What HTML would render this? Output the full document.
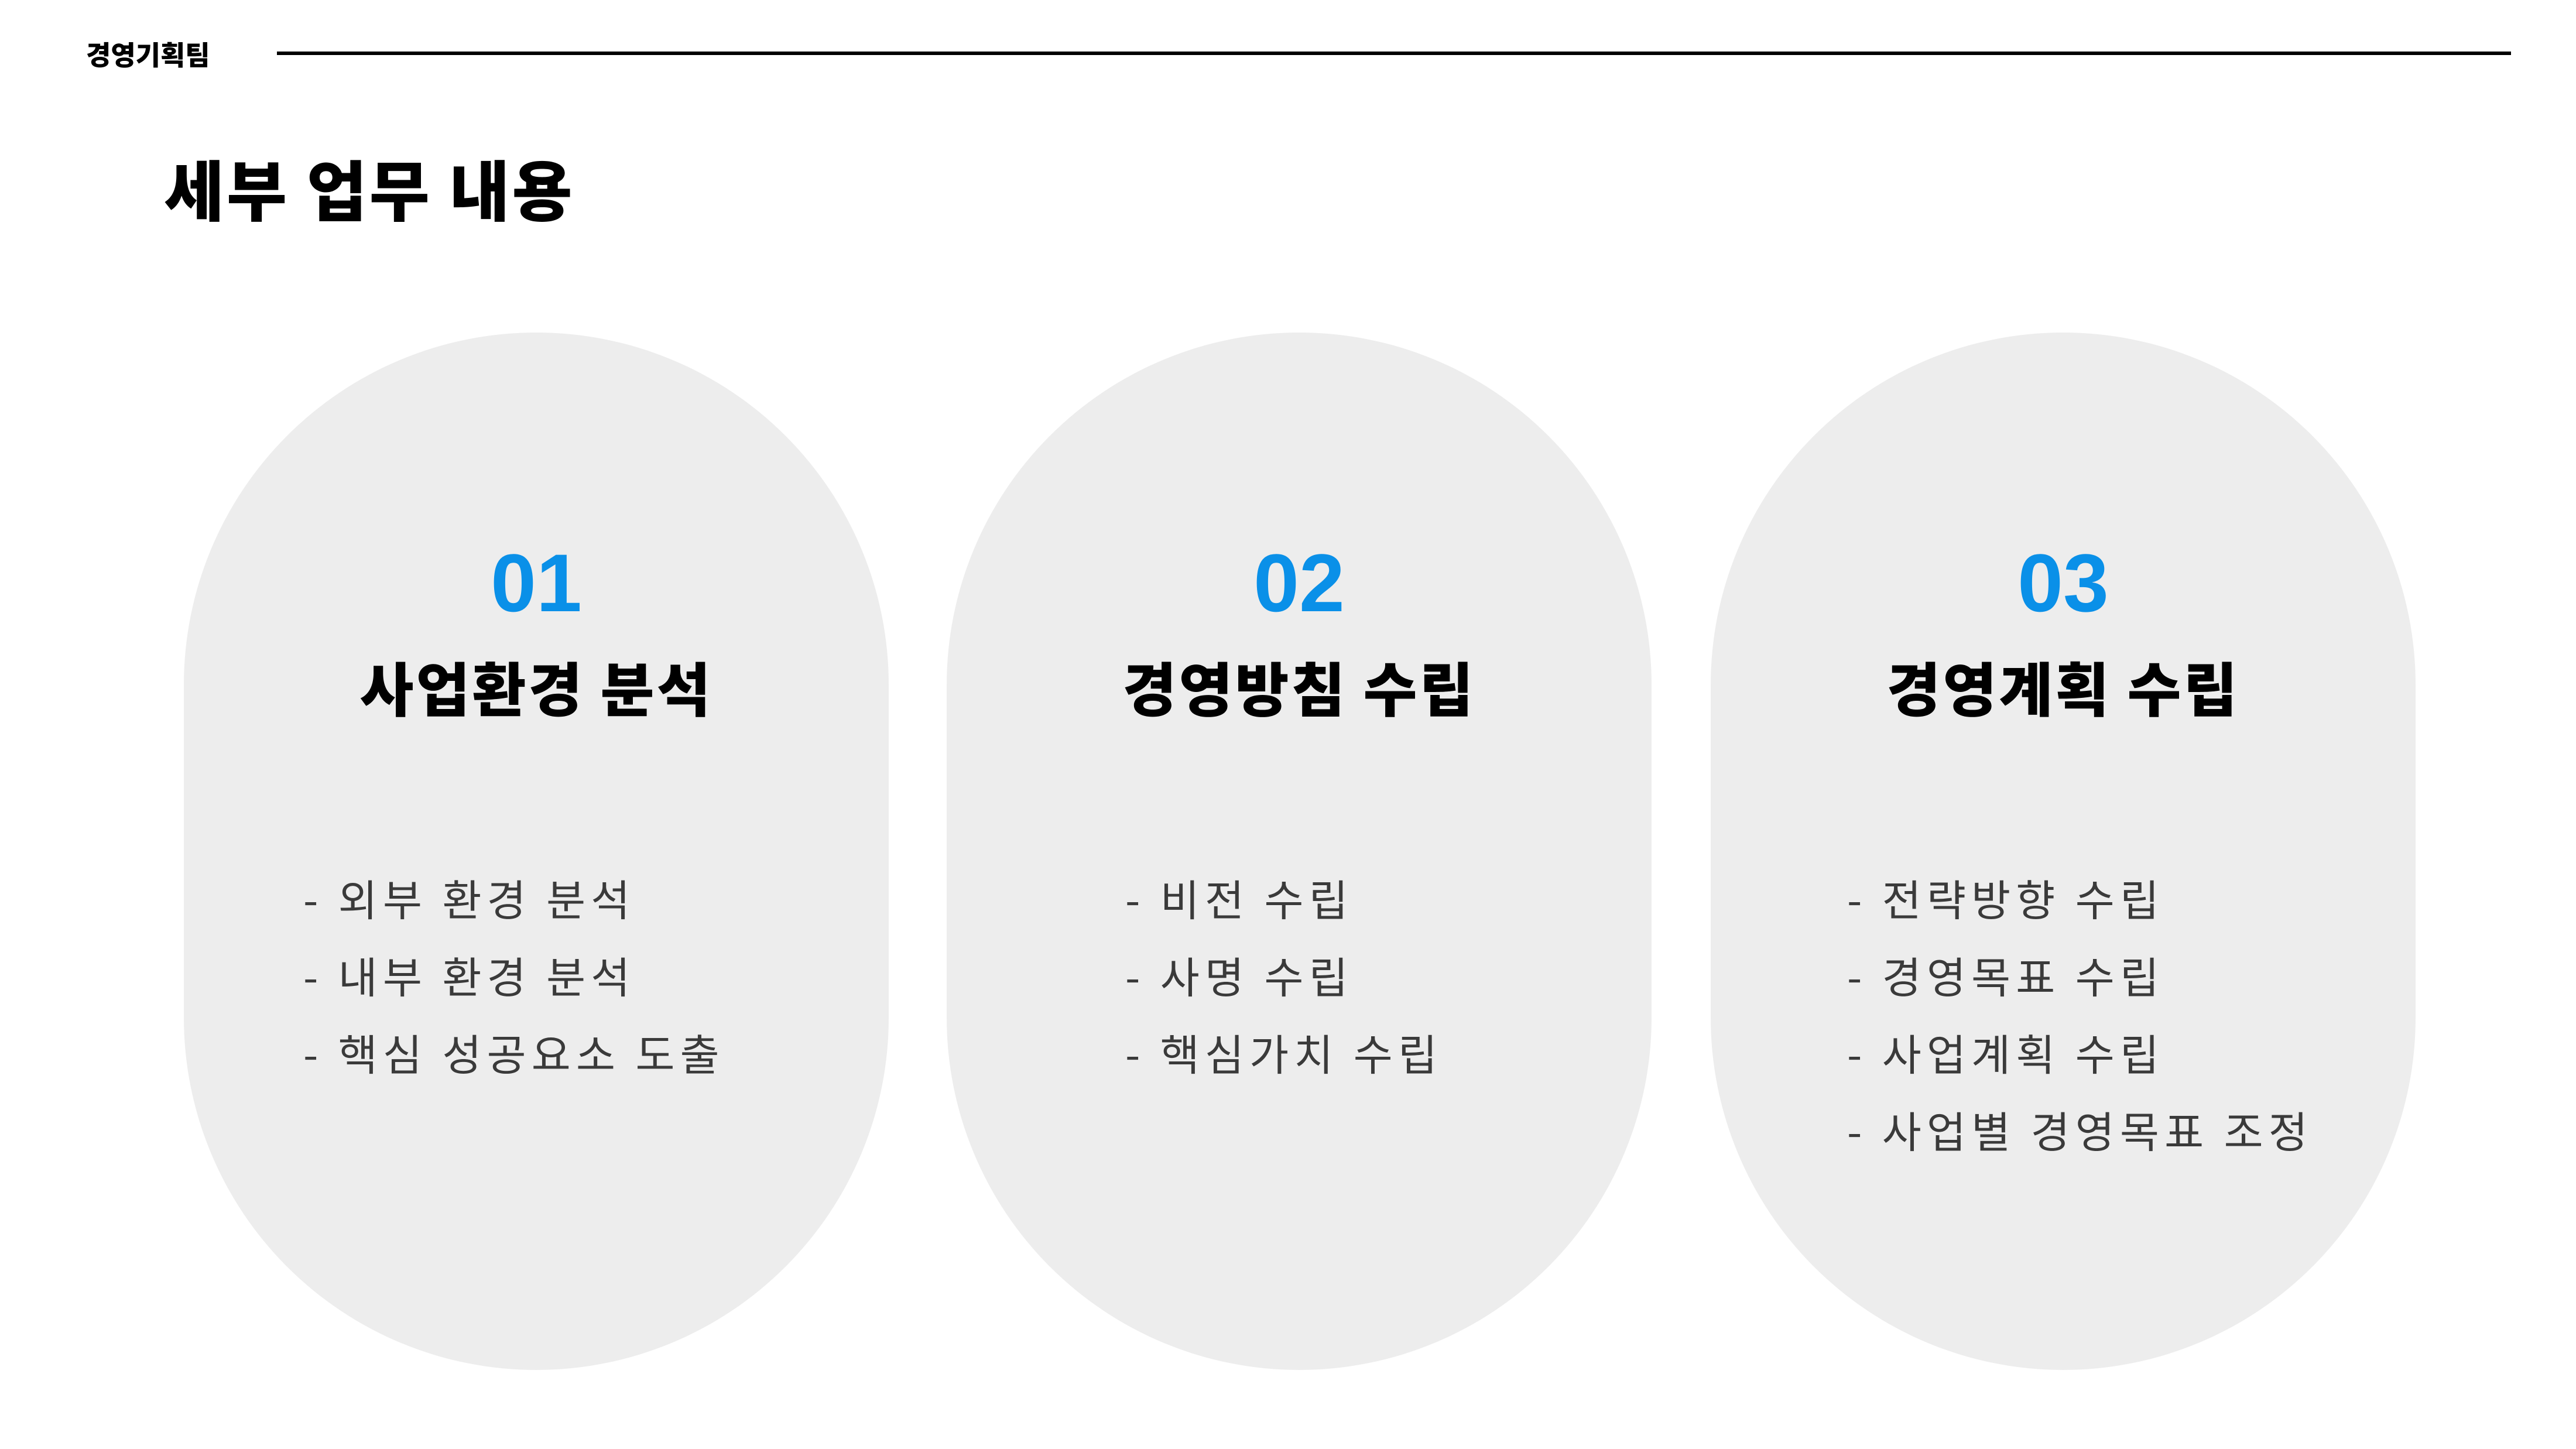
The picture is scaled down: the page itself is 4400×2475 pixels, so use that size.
<!DOCTYPE html>
<html><head><meta charset="utf-8"><style>
body{margin:0;width:4400px;height:2475px;background:#fff;position:relative;overflow:hidden;font-family:"Liberation Sans","Noto Sans CJK KR",sans-serif}
.a{position:absolute;white-space:nowrap}
.pill{position:absolute;top:568px;width:1204px;height:1772px;border-radius:602px;background:#ededed}
.num{position:absolute;left:0;width:1204px;text-align:center;top:358px;font-size:140px;line-height:140px;font-weight:bold;color:#0a90e8;font-family:"Liberation Sans",sans-serif}
.hd{position:absolute;left:0;width:1204px;text-align:center;top:544px;font-size:100px;line-height:120px;font-weight:900;color:#000;letter-spacing:4px;font-family:"Noto Sans CJK KR",sans-serif}
.bl{position:absolute;font-size:73px;line-height:132px;color:#3a3a3a;letter-spacing:9px;font-family:"Noto Sans CJK KR",sans-serif;white-space:nowrap;top:1467px}
</style></head><body>
<div class="a" style="left:147px;top:62px;font-size:46px;line-height:60px;font-weight:900;font-family:'Noto Sans CJK KR',sans-serif">경영기획팀</div>
<div class="a" style="left:473px;top:88px;width:3816px;height:6px;background:#000"></div>
<div class="a" style="left:280px;top:250px;font-size:112px;line-height:140px;font-weight:900;letter-spacing:4px;font-family:'Noto Sans CJK KR',sans-serif">세부 업무 내용</div>

<div class="pill" style="left:314px"><div class="num">01</div><div class="hd">사업환경 분석</div></div>
<div class="pill" style="left:1617px"><div class="num">02</div><div class="hd">경영방침 수립</div></div>
<div class="pill" style="left:2922px"><div class="num">03</div><div class="hd">경영계획 수립</div></div>

<div class="bl" style="left:518px">- 외부 환경 분석<br>- 내부 환경 분석<br>- 핵심 성공요소 도출</div>
<div class="bl" style="left:1922px">- 비전 수립<br>- 사명 수립<br>- 핵심가치 수립</div>
<div class="bl" style="left:3155px">- 전략방향 수립<br>- 경영목표 수립<br>- 사업계획 수립<br>- 사업별 경영목표 조정</div>
</body></html>
